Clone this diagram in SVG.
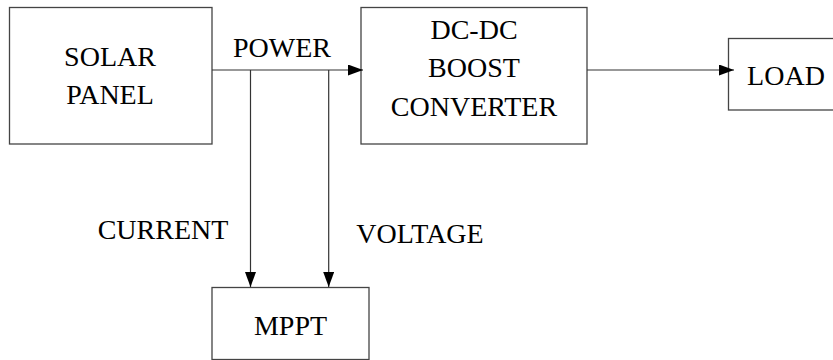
<svg xmlns="http://www.w3.org/2000/svg" width="833" height="360" viewBox="0 0 833 360">
<style>
.box{fill:#fff;stroke:#444;stroke-width:1.3}
.t{font-family:'Liberation Serif','Times New Roman','DejaVu Serif',serif;font-size:28px;fill:#000;text-anchor:middle}
.c{fill:none;stroke:#333;stroke-width:1.2}
</style>
<defs>
<marker id="ah" viewBox="0 0 15 11" refX="15" refY="5.5" markerWidth="15" markerHeight="11" markerUnits="userSpaceOnUse" orient="auto">
<path d="M0,0 L15,5.5 L0,11 Z" fill="#000"/>
</marker>
</defs>
<g id="solar"><rect class="box" x="9.5" y="7.5" width="202.5" height="136.5"/><text class="t" x="110" y="66">SOLAR</text><text class="t" x="110" y="104">PANEL</text></g>
<g id="dcdc"><rect class="box" x="361" y="7.5" width="226" height="136.5"/><text class="t" x="474" y="39">DC-DC</text><text class="t" x="474" y="77">BOOST</text><text class="t" x="474" y="116">CONVERTER</text></g>
<g id="load"><rect class="box" x="728.5" y="38.5" width="110" height="71.5"/><text class="t" x="786" y="85">LOAD</text></g>
<g id="mppt"><rect class="box" x="212" y="287.5" width="157" height="72"/><text class="t" x="290.5" y="335">MPPT</text></g>
<g id="connectors">
<path class="c" d="M212,70 H363" marker-end="url(#ah)"/>
<path class="c" d="M587,70 H734" marker-end="url(#ah)"/>
<path class="c" d="M250.5,70 V287" marker-end="url(#ah)"/>
<path class="c" d="M328.7,70 V287" marker-end="url(#ah)"/>
<text class="t" x="282" y="57">POWER</text>
<text class="t" x="163" y="239">CURRENT</text>
<text class="t" x="420" y="243">VOLTAGE</text>
</g>
</svg>
